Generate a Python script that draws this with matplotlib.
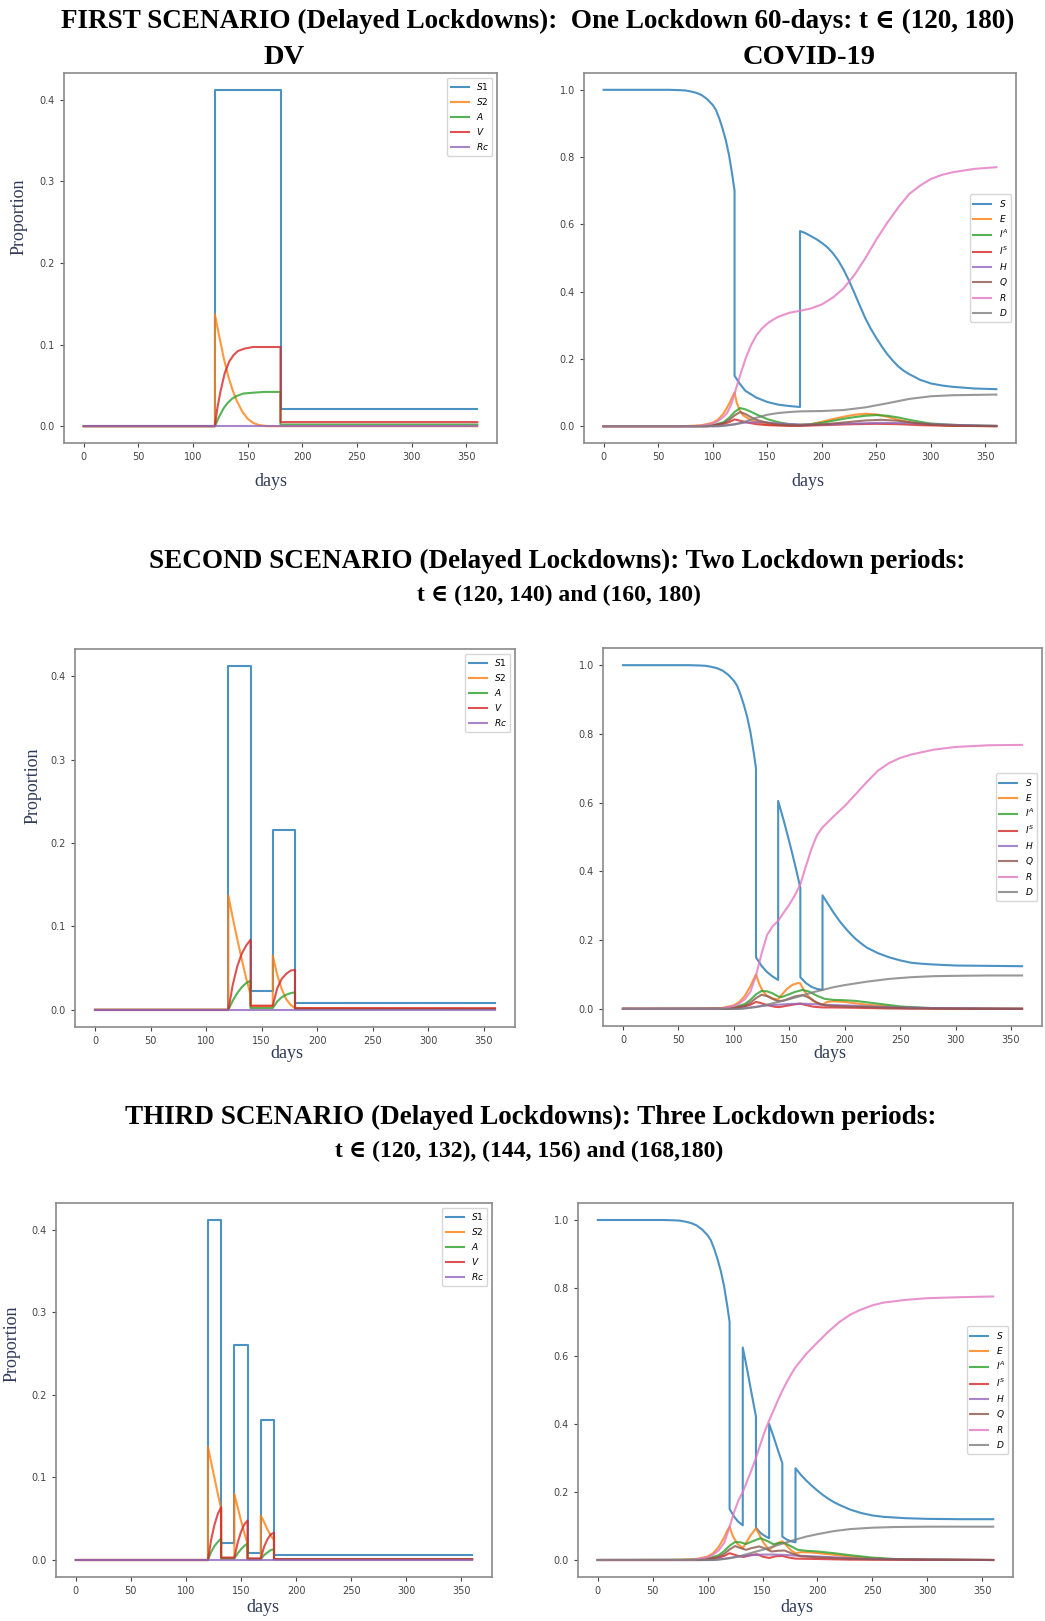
"""
Delayed-lockdown scenarios: DV model vs COVID-19 model, three rows of panels.
"""

import matplotlib.pyplot as plt

W, H = 1045, 1621

# ---- data: (day, proportion) pairs ----

# scenario 1, DV model (lockdown 120-180)
DV1_S1 = [(0, 0), (120, 0), (120, 0.412), (180, 0.412), (180, 0.021), (360, 0.021)]
DV1_S2 = [(0, 0), (120, 0), (120, 0.137), (124, 0.11), (128, 0.084), (132, 0.062), (136, 0.045),
          (140, 0.031), (145, 0.018), (150, 0.009), (155, 0.004), (160, 0.0015), (168, 0), (360, 0)]
DV1_A = [(0, 0), (120, 0), (124, 0.012), (128, 0.022), (132, 0.029), (136, 0.034), (140, 0.037),
         (146, 0.040), (155, 0.041), (165, 0.042), (180, 0.042), (180, 0.002), (360, 0.002)]
DV1_V = [(0, 0), (120, 0), (122, 0.02), (125, 0.042), (129, 0.065), (133, 0.079), (137, 0.087),
         (141, 0.092), (147, 0.095), (155, 0.097), (180, 0.097), (180, 0.005), (360, 0.005)]
DV1_RC = [(0, 0), (360, 0)]

# susceptible curve before the first lockdown (same in every COVID panel)
S_BEFORE_120 = [(0, 1.0), (60, 1.0), (70, 0.999), (75, 0.998), (80, 0.995), (85, 0.991),
                (90, 0.984), (95, 0.972), (100, 0.955), (103, 0.94), (106, 0.915), (109, 0.885),
                (112, 0.85), (115, 0.805), (118, 0.745), (120, 0.70)]

# scenario 1, COVID-19 model
COV1_S = S_BEFORE_120 + [(120, 0.15), (125, 0.125), (130, 0.105), (140, 0.085), (150, 0.072),
                         (160, 0.064), (170, 0.06), (180, 0.057), (180, 0.58), (185, 0.574),
                         (190, 0.565), (195, 0.556), (200, 0.545), (205, 0.532), (210, 0.515),
                         (215, 0.493), (220, 0.465), (225, 0.432), (230, 0.395), (235, 0.357),
                         (240, 0.32), (245, 0.289), (250, 0.262), (255, 0.237), (260, 0.214),
                         (265, 0.195), (270, 0.178), (275, 0.165), (280, 0.155), (290, 0.138),
                         (300, 0.127), (310, 0.121), (320, 0.117), (340, 0.112), (360, 0.110)]
COV1_E = [(0, 0), (70, 0), (80, 0.001), (90, 0.003), (100, 0.01), (105, 0.02), (110, 0.038),
          (115, 0.066), (118, 0.087), (120, 0.1), (122, 0.07), (125, 0.045), (128, 0.032),
          (135, 0.018), (145, 0.008), (155, 0.004), (170, 0.002), (180, 0.002), (190, 0.006),
          (200, 0.013), (210, 0.021), (220, 0.028), (230, 0.034), (240, 0.037), (250, 0.035),
          (260, 0.028), (270, 0.019), (280, 0.012), (290, 0.007), (300, 0.004), (320, 0.001),
          (360, 0)]
COV1_IA = [(0, 0), (90, 0), (100, 0.003), (110, 0.012), (115, 0.025), (120, 0.042), (125, 0.054),
           (130, 0.05), (135, 0.043), (140, 0.035), (145, 0.028), (150, 0.021), (160, 0.012),
           (170, 0.006), (180, 0.004), (190, 0.006), (200, 0.01), (210, 0.016), (220, 0.022),
           (230, 0.027), (240, 0.031), (250, 0.033), (260, 0.031), (270, 0.026), (280, 0.019),
           (290, 0.013), (300, 0.008), (320, 0.004), (340, 0.002), (360, 0.001)]
COV1_IS = [(0, 0), (95, 0), (100, 0.002), (110, 0.007), (115, 0.012), (120, 0.02), (123, 0.018),
           (130, 0.012), (140, 0.006), (150, 0.003), (170, 0.001), (180, 0.001), (200, 0.003),
           (230, 0.006), (250, 0.007), (270, 0.006), (290, 0.003), (320, 0.001), (360, 0)]
COV1_H = [(0, 0), (105, 0), (110, 0.002), (120, 0.006), (130, 0.011), (140, 0.012), (150, 0.011),
          (160, 0.008), (180, 0.005), (200, 0.005), (230, 0.008), (255, 0.01), (280, 0.009),
          (300, 0.006), (330, 0.003), (360, 0.001)]
COV1_Q = [(0, 0), (95, 0), (100, 0.002), (110, 0.009), (115, 0.018), (120, 0.032), (125, 0.042),
          (130, 0.036), (135, 0.027), (140, 0.019), (150, 0.01), (160, 0.005), (170, 0.003),
          (180, 0.002), (200, 0.005), (220, 0.011), (240, 0.017), (255, 0.019), (270, 0.016),
          (285, 0.01), (300, 0.005), (320, 0.002), (360, 0)]
COV1_R = [(0, 0), (85, 0), (90, 0.002), (100, 0.008), (105, 0.016), (110, 0.028), (113, 0.038),
          (117, 0.065), (120, 0.097), (125, 0.15), (130, 0.2), (135, 0.24), (140, 0.27),
          (145, 0.29), (150, 0.305), (155, 0.316), (160, 0.325), (170, 0.337), (180, 0.343),
          (190, 0.35), (200, 0.362), (210, 0.382), (220, 0.41), (230, 0.45), (240, 0.50),
          (250, 0.555), (260, 0.605), (270, 0.65), (280, 0.69), (290, 0.715), (300, 0.735),
          (310, 0.747), (320, 0.755), (340, 0.765), (360, 0.77)]
COV1_D = [(0, 0), (105, 0), (110, 0.001), (120, 0.005), (130, 0.014), (140, 0.025), (150, 0.034),
          (160, 0.039), (170, 0.042), (180, 0.044), (200, 0.045), (220, 0.048), (240, 0.056),
          (260, 0.068), (280, 0.081), (300, 0.089), (320, 0.092), (340, 0.093), (360, 0.094)]

# scenario 2, DV model (lockdowns 120-140 and 160-180)
DV2_S1 = [(0, 0), (120, 0), (120, 0.412), (140, 0.412), (140, 0.022), (160, 0.022),
          (160, 0.216), (180, 0.216), (180, 0.008), (360, 0.008)]
DV2_S2 = [(0, 0), (120, 0), (120, 0.137), (124, 0.11), (128, 0.085), (132, 0.061), (136, 0.038),
          (140, 0.018), (140, 0.004), (160, 0.004), (160, 0.065), (164, 0.042), (168, 0.025),
          (172, 0.013), (176, 0.006), (180, 0.002), (360, 0.001)]
DV2_A = [(0, 0), (120, 0), (124, 0.011), (128, 0.02), (132, 0.027), (136, 0.032), (140, 0.035),
         (140, 0.002), (160, 0.002), (164, 0.01), (168, 0.015), (172, 0.018), (176, 0.020),
         (180, 0.021), (180, 0.001), (360, 0.001)]
DV2_V = [(0, 0), (120, 0), (124, 0.03), (128, 0.052), (132, 0.067), (136, 0.077), (140, 0.084),
         (140, 0.005), (160, 0.005), (164, 0.026), (168, 0.037), (172, 0.043), (176, 0.047),
         (180, 0.048), (180, 0.002), (360, 0.002)]
DV2_RC = [(0, 0), (360, 0)]

# scenario 2, COVID-19 model
COV2_S = S_BEFORE_120 + [(120, 0.15), (125, 0.125), (130, 0.107), (135, 0.094), (140, 0.084),
                         (140, 0.605), (145, 0.548), (150, 0.487), (155, 0.422), (160, 0.352),
                         (160, 0.092), (165, 0.075), (170, 0.064), (175, 0.058), (180, 0.055),
                         (180, 0.33), (185, 0.305), (190, 0.28), (195, 0.257), (200, 0.237),
                         (205, 0.219), (210, 0.203), (215, 0.19), (220, 0.178), (230, 0.162),
                         (240, 0.15), (250, 0.141), (260, 0.134), (270, 0.131), (280, 0.129),
                         (300, 0.126), (330, 0.125), (360, 0.124)]
COV2_E = [(0, 0), (70, 0), (80, 0.001), (90, 0.003), (100, 0.01), (105, 0.02), (110, 0.038),
          (115, 0.066), (118, 0.087), (120, 0.1), (123, 0.072), (126, 0.052), (130, 0.038),
          (135, 0.03), (140, 0.027), (143, 0.04), (148, 0.058), (153, 0.07), (158, 0.075),
          (160, 0.074), (163, 0.055), (167, 0.037), (172, 0.022), (178, 0.013), (180, 0.012),
          (184, 0.02), (190, 0.022), (200, 0.02), (210, 0.016), (220, 0.012), (240, 0.007),
          (260, 0.003), (280, 0.001), (300, 0), (360, 0)]
COV2_IA = [(0, 0), (90, 0.001), (100, 0.004), (110, 0.014), (115, 0.026), (120, 0.042),
           (125, 0.052), (130, 0.051), (135, 0.045), (140, 0.036), (143, 0.034), (148, 0.04),
           (155, 0.049), (162, 0.055), (168, 0.05), (175, 0.038), (182, 0.029), (190, 0.026),
           (200, 0.025), (210, 0.023), (220, 0.019), (230, 0.015), (240, 0.011), (250, 0.007),
           (260, 0.005), (280, 0.002), (300, 0.001), (360, 0)]
COV2_IS = [(0, 0), (95, 0), (100, 0.002), (110, 0.007), (115, 0.012), (120, 0.02), (123, 0.018),
           (130, 0.011), (137, 0.006), (141, 0.005), (148, 0.009), (155, 0.013), (160, 0.015),
           (165, 0.011), (172, 0.006), (180, 0.004), (190, 0.004), (210, 0.003), (240, 0.001),
           (360, 0)]
COV2_H = [(0, 0), (105, 0), (110, 0.002), (120, 0.006), (130, 0.01), (140, 0.012), (150, 0.014),
          (160, 0.015), (170, 0.014), (180, 0.012), (190, 0.011), (210, 0.009), (230, 0.006),
          (250, 0.004), (280, 0.002), (320, 0.001), (360, 0)]
COV2_Q = [(0, 0), (95, 0), (100, 0.002), (110, 0.009), (115, 0.018), (120, 0.031), (125, 0.041),
          (130, 0.037), (135, 0.029), (140, 0.022), (145, 0.024), (150, 0.03), (155, 0.036),
          (162, 0.04), (168, 0.032), (175, 0.018), (182, 0.01), (190, 0.008), (200, 0.007),
          (220, 0.005), (240, 0.003), (260, 0.001), (360, 0)]
COV2_R = [(0, 0), (85, 0), (90, 0.002), (100, 0.008), (105, 0.016), (110, 0.028), (115, 0.05),
          (120, 0.097), (125, 0.16), (130, 0.215), (135, 0.24), (140, 0.256), (145, 0.28),
          (150, 0.303), (155, 0.33), (160, 0.362), (165, 0.415), (170, 0.465), (175, 0.505),
          (180, 0.528), (190, 0.56), (200, 0.59), (210, 0.625), (220, 0.66), (230, 0.693),
          (240, 0.715), (250, 0.73), (260, 0.74), (280, 0.754), (300, 0.762), (330, 0.767),
          (360, 0.768)]
COV2_D = [(0, 0), (105, 0), (110, 0.001), (120, 0.005), (130, 0.012), (140, 0.02), (150, 0.028),
          (160, 0.037), (170, 0.047), (180, 0.055), (190, 0.063), (200, 0.069), (220, 0.079),
          (240, 0.087), (260, 0.092), (280, 0.095), (300, 0.096), (330, 0.097), (360, 0.097)]

# scenario 3, DV model (lockdowns 120-132, 144-156, 168-180)
DV3_S1 = [(0, 0), (120, 0), (120, 0.412), (132, 0.412), (132, 0.020), (144, 0.020),
          (144, 0.261), (156, 0.261), (156, 0.009), (168, 0.009), (168, 0.17), (180, 0.17),
          (180, 0.006), (360, 0.006)]
DV3_S2 = [(0, 0), (120, 0), (120, 0.137), (123, 0.118), (126, 0.099), (129, 0.08), (132, 0.062),
          (132, 0.002), (144, 0.002), (144, 0.08), (147, 0.064), (150, 0.048), (153, 0.033),
          (156, 0.02), (156, 0.001), (168, 0.001), (168, 0.054), (171, 0.046), (174, 0.037),
          (177, 0.03), (180, 0.024), (180, 0.001), (360, 0.001)]
DV3_A = [(0, 0), (120, 0), (123, 0.01), (126, 0.017), (129, 0.022), (132, 0.026), (132, 0.002),
         (144, 0.002), (147, 0.008), (150, 0.013), (153, 0.017), (156, 0.02), (156, 0.001),
         (168, 0.001), (171, 0.006), (174, 0.009), (177, 0.012), (180, 0.013), (180, 0.001),
         (360, 0.001)]
DV3_V = [(0, 0), (120, 0), (123, 0.025), (126, 0.043), (129, 0.056), (132, 0.064), (132, 0.003),
         (144, 0.003), (147, 0.021), (150, 0.034), (153, 0.043), (156, 0.048), (156, 0.002),
         (168, 0.002), (171, 0.016), (174, 0.025), (177, 0.031), (180, 0.033), (180, 0.001),
         (360, 0.001)]
DV3_RC = [(0, 0), (360, 0)]

# scenario 3, COVID-19 model
COV3_S = S_BEFORE_120 + [(120, 0.15), (124, 0.128), (128, 0.112), (132, 0.102), (132, 0.625),
                         (136, 0.56), (140, 0.49), (144, 0.422), (144, 0.095), (148, 0.08),
                         (152, 0.071), (156, 0.064), (156, 0.40), (160, 0.363), (164, 0.323),
                         (168, 0.285), (168, 0.069), (172, 0.06), (176, 0.055), (180, 0.052),
                         (180, 0.27), (185, 0.25), (190, 0.233), (195, 0.218), (200, 0.204),
                         (205, 0.191), (210, 0.18), (215, 0.17), (220, 0.162), (230, 0.148),
                         (240, 0.138), (250, 0.131), (260, 0.127), (270, 0.125), (280, 0.123),
                         (300, 0.121), (330, 0.12), (360, 0.12)]
COV3_E = [(0, 0), (70, 0), (80, 0.001), (90, 0.003), (100, 0.01), (105, 0.02), (110, 0.038),
          (115, 0.066), (118, 0.087), (120, 0.098), (123, 0.07), (127, 0.048), (132, 0.035),
          (135, 0.05), (139, 0.072), (144, 0.093), (147, 0.075), (151, 0.05), (156, 0.03),
          (160, 0.04), (164, 0.05), (168, 0.055), (172, 0.042), (176, 0.028), (180, 0.02),
          (185, 0.023), (195, 0.022), (210, 0.017), (230, 0.01), (250, 0.005), (270, 0.002),
          (300, 0.001), (360, 0)]
COV3_IA = [(0, 0), (90, 0.001), (100, 0.004), (110, 0.014), (115, 0.026), (120, 0.042),
           (125, 0.053), (130, 0.052), (135, 0.047), (140, 0.054), (148, 0.064), (155, 0.055),
           (160, 0.046), (165, 0.05), (170, 0.05), (175, 0.042), (182, 0.03), (190, 0.027),
           (200, 0.025), (215, 0.02), (230, 0.014), (250, 0.007), (270, 0.003), (300, 0.001),
           (360, 0)]
COV3_IS = [(0, 0), (95, 0), (100, 0.002), (110, 0.007), (115, 0.012), (120, 0.02), (124, 0.016),
           (130, 0.01), (133, 0.009), (140, 0.015), (145, 0.017), (150, 0.01), (156, 0.006),
           (162, 0.011), (168, 0.012), (174, 0.007), (180, 0.004), (200, 0.003), (230, 0.001),
           (360, 0)]
COV3_H = [(0, 0), (105, 0), (110, 0.002), (120, 0.006), (130, 0.011), (140, 0.014), (150, 0.016),
          (160, 0.016), (170, 0.015), (180, 0.013), (195, 0.011), (215, 0.008), (240, 0.004),
          (270, 0.002), (360, 0)]
COV3_Q = [(0, 0), (95, 0), (100, 0.002), (110, 0.009), (115, 0.018), (120, 0.031), (125, 0.041),
          (130, 0.035), (135, 0.03), (140, 0.035), (147, 0.04), (153, 0.033), (158, 0.025),
          (164, 0.027), (170, 0.028), (176, 0.02), (185, 0.011), (200, 0.008), (220, 0.005),
          (250, 0.002), (360, 0)]
COV3_R = [(0, 0), (85, 0), (90, 0.002), (100, 0.008), (105, 0.016), (110, 0.028), (115, 0.05),
          (120, 0.097), (124, 0.14), (128, 0.175), (132, 0.2), (136, 0.232), (140, 0.265),
          (144, 0.3), (148, 0.34), (152, 0.378), (156, 0.41), (160, 0.44), (164, 0.47),
          (168, 0.498), (172, 0.523), (176, 0.546), (180, 0.567), (190, 0.607), (200, 0.64),
          (210, 0.672), (220, 0.70), (230, 0.722), (240, 0.737), (250, 0.749), (260, 0.757),
          (280, 0.765), (300, 0.77), (330, 0.773), (360, 0.775)]
COV3_D = [(0, 0), (105, 0), (110, 0.001), (120, 0.005), (130, 0.012), (140, 0.021), (150, 0.03),
          (160, 0.04), (170, 0.05), (180, 0.06), (190, 0.069), (200, 0.076), (215, 0.085),
          (230, 0.091), (250, 0.095), (270, 0.097), (300, 0.098), (360, 0.098)]

DV_LABELS = ["$S1$", "$S2$", "$A$", "$V$", "$Rc$"]
COV_LABELS = ["$S$", "$E$", "$I^A$", "$I^S$", "$H$", "$Q$", "$R$", "$D$"]
DV_YTICKS = [0.0, 0.1, 0.2, 0.3, 0.4]
COV_YTICKS = [0.0, 0.2, 0.4, 0.6, 0.8, 1.0]
DAY_TICKS = [0, 50, 100, 150, 200, 250, 300, 350]

SERIF = ["Liberation Serif", "DejaVu Serif"]
COLORS = ["#1f77b4", "#ff7f0e", "#2ca02c", "#d62728", "#9467bd", "#8c564b", "#e377c2", "#7f7f7f"]

fig = plt.figure(figsize=(W / 100, H / 100), dpi=100)


def px_text(x, y, s, **kw):
    fig.text(x / W, 1 - y / H, s, ha="center", va="center", family=SERIF, **kw)


def panel(box, curves, labels, yticks, legend_loc):
    left, right, top, bottom = box
    ax = fig.add_axes([left / W, 1 - bottom / H, (right - left) / W, (bottom - top) / H])
    for pts, lab, col in zip(curves, labels, COLORS):
        days = [p[0] for p in pts]
        vals = [p[1] for p in pts]
        ax.plot(days, vals, color=col, lw=1.5, alpha=0.8, label=lab)
    ax.set_xticks(DAY_TICKS)
    ax.set_yticks(yticks)
    ax.set_yticklabels([f"{v:.1f}" for v in yticks])
    ax.tick_params(labelsize=7, colors="#444444", length=3, width=0.8)
    for sp in ax.spines.values():
        sp.set_color("#8a8a8a")
        sp.set_linewidth(1.2)
    ax.legend(loc=legend_loc, fontsize=6.5, handlelength=2.0, labelspacing=0.45,
              borderpad=0.4, framealpha=0.8)
    return ax


dv_axes_boxes = [(64, 497, 73, 443), (75, 515, 649, 1027), (56, 492, 1203, 1577)]
cov_axes_boxes = [(584, 1016, 73, 443), (603, 1042, 648, 1026), (578, 1013, 1203, 1577)]

dv_sets = [
    [DV1_S1, DV1_S2, DV1_A, DV1_V, DV1_RC],
    [DV2_S1, DV2_S2, DV2_A, DV2_V, DV2_RC],
    [DV3_S1, DV3_S2, DV3_A, DV3_V, DV3_RC],
]
cov_sets = [
    [COV1_S, COV1_E, COV1_IA, COV1_IS, COV1_H, COV1_Q, COV1_R, COV1_D],
    [COV2_S, COV2_E, COV2_IA, COV2_IS, COV2_H, COV2_Q, COV2_R, COV2_D],
    [COV3_S, COV3_E, COV3_IA, COV3_IS, COV3_H, COV3_Q, COV3_R, COV3_D],
]

for box, curves in zip(dv_axes_boxes, dv_sets):
    panel(box, curves, DV_LABELS, DV_YTICKS, "upper right")
for box, curves in zip(cov_axes_boxes, cov_sets):
    panel(box, curves, COV_LABELS, COV_YTICKS, "center right")

# headings
px_text(538, 21, "FIRST SCENARIO (Delayed Lockdowns):  One Lockdown 60-days: t \u2208 (120, 180)",
        fontsize=19.5, fontweight="bold")
px_text(284, 57, "DV", fontsize=20.5, fontweight="bold")
px_text(809, 57, "COVID-19", fontsize=20.5, fontweight="bold")
px_text(557, 561, "SECOND SCENARIO (Delayed Lockdowns): Two Lockdown periods:",
        fontsize=19.5, fontweight="bold")
px_text(559, 595, "t \u2208 (120, 140) and (160, 180)", fontsize=17, fontweight="bold")
px_text(531, 1117, "THIRD SCENARIO (Delayed Lockdowns): Three Lockdown periods:",
        fontsize=19.5, fontweight="bold")
px_text(529, 1151, "t \u2208 (120, 132), (144, 156) and (168,180)", fontsize=17,
        fontweight="bold")

# axis labels
for x, y in [(19, 217), (33, 786), (12, 1344)]:
    px_text(x, y, "Proportion", fontsize=13, rotation=90, color="#2f3b5a")
for x, y in [(271, 482), (808, 482), (287, 1054), (830, 1053), (263, 1607), (797, 1607)]:
    px_text(x, y, "days", fontsize=13, color="#2f3b5a")

fig.savefig("out.png", dpi=100)
